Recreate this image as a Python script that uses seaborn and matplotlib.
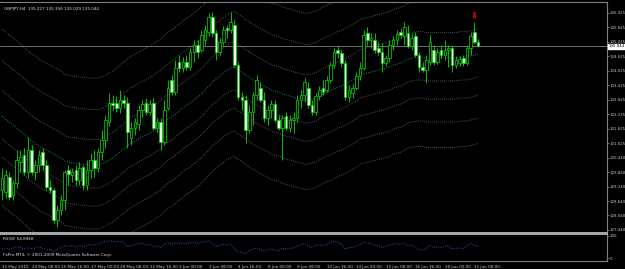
import numpy as np
import pandas as pd
import matplotlib
matplotlib.use("Agg")
import matplotlib.pyplot as plt
import seaborn as sns

# ---------------- data ----------------
opens = [129.10,129.01,129.63,128.89,129.38,130.25,130.54,129.84,130.75,129.84,
         130.13,130.67,130.13,129.22,129.10,127.85,128.27,128.68,129.92,129.71,
         129.92,129.51,130.05,129.30,129.92,130.34,130.00,130.67,131.16,131.91,
         132.70,132.70,132.49,132.82,132.70,131.25,131.66,131.83,132.41,132.70,
         132.32,132.70,131.66,131.91,131.08,132.49,133.65,133.15,134.39,134.14,
         134.39,134.19,134.81,135.10,134.89,135.30,135.64,136.26,135.59,134.81,
         135.22,135.80,135.72,135.92,134.27,132.94,132.82,131.58,132.32,133.03,
         133.32,132.82,132.07,132.41,132.66,131.99,131.66,132.16,131.66,131.99,
         132.07,132.82,133.03,133.32,132.61,132.32,132.99,133.32,133.23,133.65,
         134.27,134.89,134.77,134.35,132.94,133.11,133.32,133.81,134.14,135.59,
         135.30,135.30,134.97,134.81,134.35,134.56,135.10,135.30,135.64,135.47,
         135.59,135.06,135.47,134.68,134.19,134.06,134.39,134.89,134.39,134.89,
         134.68,134.89,134.97,134.27,134.35,134.56,134.35,134.97,135.64,135.227]
highs = [130.00,129.92,129.84,129.51,130.75,130.75,130.83,131.29,130.96,130.34,
         130.75,130.83,130.34,129.51,129.18,128.47,128.89,129.92,130.13,130.00,
         130.13,130.25,130.13,130.34,130.63,130.75,130.83,131.58,132.20,133.11,
         133.03,132.99,133.23,133.03,132.94,131.91,132.07,132.61,132.82,132.90,
         132.82,132.90,132.07,132.07,132.82,133.65,133.86,134.48,134.68,134.60,
         134.68,134.97,135.30,135.30,135.72,135.92,136.42,136.46,135.72,135.39,
         135.88,135.92,136.46,136.13,134.39,133.15,133.03,132.61,133.15,133.86,
         133.57,133.15,132.61,132.82,132.82,132.20,132.20,132.32,132.20,132.32,
         133.03,133.23,133.73,133.57,132.82,133.11,133.40,133.65,133.81,134.39,
         134.97,135.06,134.89,134.48,133.44,133.48,133.98,134.39,135.72,135.84,
         135.59,135.59,135.22,135.18,134.68,135.30,135.47,135.72,135.80,136.05,
         135.92,135.59,135.64,134.81,134.39,134.68,135.51,135.10,134.97,135.10,
         135.30,135.10,135.06,134.64,134.64,134.68,135.10,135.64,136.05,135.356]
lows = [128.68,128.76,128.68,128.68,129.18,129.84,129.71,129.59,129.71,129.51,
        129.84,129.92,129.10,128.97,127.73,127.56,128.06,128.27,129.30,129.43,
        129.30,129.30,129.10,129.10,129.59,129.63,129.84,130.34,130.83,131.74,
        132.41,132.32,132.28,132.49,130.83,130.96,131.37,131.58,132.12,132.20,
        132.20,131.58,131.50,130.75,130.96,132.41,133.03,133.03,133.98,133.98,
        134.06,134.06,134.39,134.56,134.81,135.10,135.47,135.43,134.48,134.68,
        135.10,135.39,135.59,134.19,132.82,132.41,131.04,131.45,131.78,132.82,
        132.74,131.91,131.78,132.07,131.91,131.58,130.34,131.58,131.50,131.45,
        131.91,132.49,132.74,132.49,132.20,132.20,132.82,133.03,133.15,133.52,
        134.14,134.56,134.19,132.82,132.74,132.90,133.23,133.65,134.06,135.10,
        134.97,134.77,134.68,133.98,134.23,134.39,134.89,135.10,135.39,135.10,
        134.97,134.89,134.60,133.98,133.98,133.52,134.27,134.27,134.31,134.56,
        134.48,134.19,133.98,134.14,134.23,134.23,134.27,134.68,135.14,135.029]
closes = [129.59,129.71,128.80,129.38,130.34,130.46,129.84,130.75,129.84,130.13,
          130.54,130.13,129.22,129.10,127.85,128.27,128.68,129.84,129.76,129.84,
          129.51,130.00,129.30,129.92,130.34,130.00,130.67,131.16,131.99,132.70,
          132.61,132.49,132.82,132.70,131.50,131.66,131.91,132.41,132.66,132.32,
          132.66,131.66,131.91,131.08,132.41,133.32,133.15,134.14,134.14,134.39,
          134.19,134.81,135.10,134.81,135.51,135.72,136.26,135.59,134.81,135.22,
          135.72,135.72,136.05,134.27,132.94,132.82,131.58,132.32,133.03,133.65,
          132.82,132.07,132.41,132.66,131.99,131.66,132.07,131.66,131.99,132.07,
          132.82,133.03,133.57,132.61,132.32,132.99,133.23,133.15,133.65,134.27,
          134.81,134.77,134.35,132.94,133.23,133.32,133.81,134.14,135.51,135.30,
          135.39,134.89,134.81,134.35,134.56,135.10,135.30,135.55,135.51,135.84,
          135.06,135.39,134.68,134.19,134.06,134.48,135.22,134.39,134.81,134.68,
          134.89,134.97,134.27,134.48,134.52,134.35,134.97,135.47,135.22,135.044]
ma_mid = [132.16,132.03,131.91,131.78,131.66,131.54,131.41,131.25,131.12,131.04,
          130.92,130.83,130.75,130.67,130.58,130.50,130.42,130.29,130.25,130.21,
          130.21,130.17,130.17,130.13,130.13,130.13,130.13,130.17,130.25,130.34,
          130.42,130.54,130.67,130.79,130.92,131.04,131.12,131.21,131.29,131.37,
          131.45,131.54,131.66,131.74,131.91,132.03,132.12,132.24,132.37,132.49,
          132.61,132.70,132.82,132.94,133.07,133.23,133.40,133.57,133.69,133.81,
          133.94,134.06,134.14,134.19,134.06,133.98,133.86,133.77,133.65,133.57,
          133.48,133.40,133.32,133.23,133.19,133.15,133.07,133.03,132.99,132.94,
          132.90,132.86,132.82,132.82,132.86,132.90,132.99,133.07,133.15,133.19,
          133.28,133.36,133.40,133.48,133.57,133.65,133.73,133.86,133.90,133.94,
          133.98,134.02,134.06,134.10,134.14,134.19,134.27,134.31,134.35,134.43,
          134.52,134.56,134.60,134.60,134.60,134.56,134.56,134.56,134.56,134.56,
          134.56,134.56,134.56,134.56,134.60,134.60,134.60,134.64,134.68,134.72]
band_offsets = [3.6, 2.3, 1.05, -0.95, -1.7, -2.65, -3.7]
rsi = [41,43,38,45,50,48,40,47,42,45,
       50,44,40,38,30,40,48,55,54,56,
       50,57,50,58,62,58,64,70,75,78,
       76,73,76,72,52,57,60,66,68,60,
       64,50,54,46,62,68,62,70,66,68,
       65,70,72,66,72,74,78,66,52,58,
       62,60,64,40,28,27,20,33,40,46,
       38,32,38,42,35,33,45,40,44,45,
       55,60,66,55,48,57,60,56,62,70,
       76,72,64,40,46,48,55,60,72,66,
       67,58,56,48,52,60,63,66,62,68,
       55,60,48,38,36,44,58,46,52,48,
       54,55,42,44,46,42,56,66,57,54.8968]
time_pos = [0, 8, 16, 24, 32, 40, 48, 56, 64, 72, 80, 88, 96, 104, 112, 120, 128]
time_labels = ["21 May 2010", "24 May 08:00", "25 May 16:00", "27 May 00:00",
               "28 May 08:00", "31 May 16:00", "2 Jun 00:00", "3 Jun 08:00",
               "4 Jun 16:00", "8 Jun 00:00", "9 Jun 08:00", "10 Jun 16:00",
               "14 Jun 00:00", "15 Jun 08:00", "16 Jun 16:00", "18 Jun 00:00",
               "21 Jun 08:00"]
price_ticks = [136.425, 135.825, 135.225, 134.625, 134.025, 133.425, 132.825,
               132.225, 131.625, 131.025, 130.440, 129.840, 129.240, 128.640,
               128.040, 127.440]
price_tick_labels = ["136.425", "135.825", "135.225", "134.625", "134.025",
                     "133.425", "132.825", "132.225", "131.625", "131.025",
                     "130.440", "129.840", "129.240", "128.640", "128.040",
                     "127.440"]
symbol_text = "GBPJPY,H4  135.227 135.356 135.029 135.044"
rsi_text = "RSI(8) 54.8968"
copyright_text = "FxPro MT4, \u00a9 2001-2009 MetaQuotes Software Corp."
current_price = 135.044
fractal_bar = 128
fractal_price = 136.33

# ---------------- style ----------------
sns.set_theme(style="dark")
plt.rcParams['font.family'] = ['DejaVu Sans']
BG = "#000000"
GRID = "#808080"
GREEN = "#00d000"
FS = 3.0
FSY = 2.75

fig = plt.figure(figsize=(6.25, 2.69), dpi=100, facecolor=BG)
W, H = 625.0, 269.0
ax = fig.add_axes([0, 1 - 233 / H, 607 / W, (233 - 2) / H])
axr = fig.add_axes([0, 1 - 261 / H, 607 / W, (261 - 234) / H])
for a in (ax, axr):
    a.set_facecolor(BG)
    a.grid(False)
    for s in a.spines.values():
        s.set_color(GRID)
        s.set_linewidth(0.8)
    a.spines['left'].set_visible(False)
ax.spines['bottom'].set_linewidth(1.4)
ax.spines['bottom'].set_color("#a8a8a8")
axr.spines['top'].set_linewidth(1.4)
axr.spines['top'].set_color("#a8a8a8")

n = len(closes)
idx = np.arange(n)
df = pd.DataFrame({"i": idx, "open": opens, "high": highs, "low": lows,
                   "close": closes, "ma": ma_mid, "rsi": rsi})

# envelope bands around the moving average
for off in band_offsets:
    sns.lineplot(x=df["i"], y=df["ma"] + off, ax=ax, color="#7a7a7a",
                 linestyle=(0, (1, 1.6)), linewidth=0.55)
sns.lineplot(data=df, x="i", y="ma", ax=ax, color="#189a9a",
             linestyle=(0, (1, 1.6)), linewidth=0.65)

# candles
up = df["close"] >= df["open"]
ax.vlines(df["i"], df["low"], df["high"], color=GREEN, linewidth=0.65, zorder=3)
body_lo = np.minimum(df["open"], df["close"])
body_h = np.maximum(np.abs(df["close"] - df["open"]), 0.02)
ax.bar(df["i"][up], body_h[up], bottom=body_lo[up], width=0.7,
       color=BG, edgecolor=GREEN, linewidth=0.55, zorder=4)
ax.bar(df["i"][~up], body_h[~up], bottom=body_lo[~up], width=0.7,
       color="#e6ffe6", edgecolor=GREEN, linewidth=0.55, zorder=4)

ax.axhline(current_price, color=GRID, linewidth=0.6, zorder=2)
ax.scatter([fractal_bar], [fractal_price], marker=r'$\Downarrow$', s=14,
           color="#b00000", zorder=5)

xmin, xmax = -2 / 3.69, 605 / 3.69
ax.set_xlim(xmin, xmax)
ax.set_ylim(127.315, 136.88)
ax.set_xlabel("")
ax.set_ylabel("")
ax.set_xticks([])
ax.yaxis.tick_right()
ax.set_yticks(price_ticks)
ax.set_yticklabels(price_tick_labels)
ax.tick_params(axis='y', colors=GRID, labelcolor="#c8c8c8", labelsize=FSY,
               length=1.5, width=0.6, pad=0.5, right=True, left=False)
ax.text(1.0025, current_price, "135.044", transform=ax.get_yaxis_transform(),
        fontsize=FSY, color="black", va="center", ha="left",
        bbox=dict(boxstyle="square,pad=0.1", fc="white", ec="white"))

# RSI
sns.lineplot(data=df, x="i", y="rsi", ax=axr, color="#2a6db5",
             linestyle=(0, (1, 1.6)), linewidth=0.65)
axr.set_xlim(xmin, xmax)
axr.set_ylim(-13.6, 109)
axr.set_xlabel("")
axr.set_ylabel("")
axr.yaxis.tick_right()
axr.set_yticks([100, 0])
axr.set_yticklabels(["100", "0"])
axr.tick_params(axis='y', colors=GRID, labelcolor="#c8c8c8", labelsize=FSY,
                length=1.5, width=0.6, pad=0.5, right=True, left=False)
axr.set_xticks(time_pos)
axr.set_xticklabels(time_labels)
axr.tick_params(axis='x', colors=GRID, labelcolor="#c8c8c8", labelsize=FS,
                length=2, width=0.6, pad=0.8)
for lab in axr.get_xticklabels():
    lab.set_ha("left")

fig.text(4 / W, 1 - 9 / H, symbol_text, color="#e0e0e0", fontsize=FS,
         va="center", ha="left")
fig.text(3 / W, 1 - 239 / H, rsi_text, color="#e0e0e0", fontsize=FS,
         va="center", ha="left")
fig.text(3 / W, 1 - 255 / H, copyright_text, color="#e0e0e0", fontsize=FS,
         va="center", ha="left")

fig.savefig("out.png", dpi=100, facecolor=BG)
